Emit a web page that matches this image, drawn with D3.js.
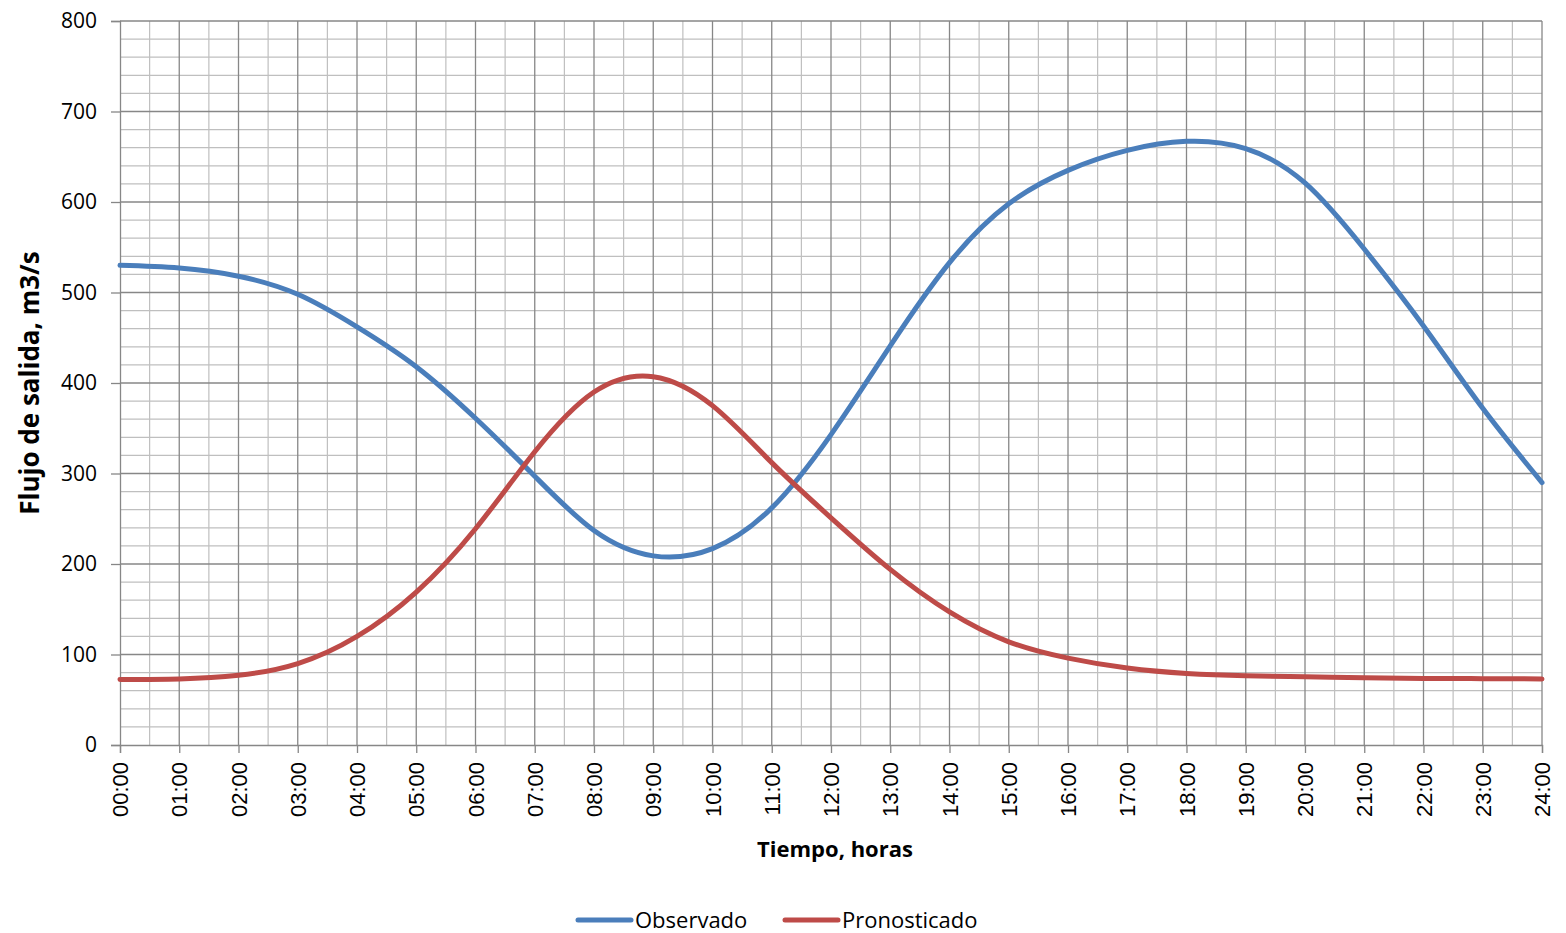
<!DOCTYPE html>
<html lang="es">
<head>
<meta charset="UTF-8">
<title>Flujo de salida</title>
<script src="https://cdn.jsdelivr.net/npm/d3@7"></script>
<style>
  body { margin: 0; background: #fff; }
  text { font-family: "Open Sans", "Noto Sans", sans-serif; fill: #000; }
</style>
</head>
<body>
<svg width="1566" height="933"></svg>
<script>
// hours 0..24
var hours = d3.range(0, 25);
var hourLabels = hours.map(function(h) { return (h < 10 ? "0" : "") + h + ":00"; });

var observado = [530, 527, 518, 498, 462, 418, 361, 297, 237, 209, 217, 262, 343, 441, 533,
                 598, 635, 657, 667, 659, 621, 548, 463, 372, 290];
var pronosticado = [72.5, 73, 77, 90, 120, 169, 239, 324, 390, 407, 375, 312, 251, 194, 147,
                    114, 96, 85, 79, 76.5, 75.4, 74.3, 73.6, 73.3, 73];

var yTicks = [0, 100, 200, 300, 400, 500, 600, 700, 800];

var series = [
  { name: "Observado", values: observado, color: "#4A7EBB" },
  { name: "Pronosticado", values: pronosticado, color: "#BE4B48" }
];

var plotLeft = 120, plotRight = 1542, plotTop = 21, plotBottom = 745;

var x = d3.scaleLinear().domain([0, 24]).range([plotLeft, plotRight]);
var y = d3.scaleLinear().domain([0, 800]).range([plotBottom, plotTop]);

var svg = d3.select("svg");

// minor grid
svg.append("g")
  .selectAll("line")
  .data(d3.range(0.5, 24, 1))
  .join("line")
  .attr("x1", function(d) { return x(d); })
  .attr("x2", function(d) { return x(d); })
  .attr("y1", plotTop).attr("y2", plotBottom)
  .attr("stroke", "#BFBFBF").attr("stroke-width", 1.2);

svg.append("g")
  .selectAll("line")
  .data(d3.range(20, 800, 20).filter(function(d) { return d % 100 !== 0; }))
  .join("line")
  .attr("x1", plotLeft).attr("x2", plotRight)
  .attr("y1", function(d) { return y(d); })
  .attr("y2", function(d) { return y(d); })
  .attr("stroke", "#BFBFBF").attr("stroke-width", 1.2);

// major grid
svg.append("g")
  .selectAll("line")
  .data(hours.slice(1))
  .join("line")
  .attr("x1", function(d) { return x(d); })
  .attr("x2", function(d) { return x(d); })
  .attr("y1", plotTop).attr("y2", plotBottom)
  .attr("stroke", "#878787").attr("stroke-width", 1.3);

svg.append("g")
  .selectAll("line")
  .data(yTicks.slice(1))
  .join("line")
  .attr("x1", plotLeft).attr("x2", plotRight)
  .attr("y1", function(d) { return y(d); })
  .attr("y2", function(d) { return y(d); })
  .attr("stroke", "#878787").attr("stroke-width", 1.3);

// axes
var yAxis = svg.append("g")
  .attr("transform", "translate(" + plotLeft + ",0)")
  .call(d3.axisLeft(y).tickValues(yTicks).tickSize(9).tickPadding(14));
yAxis.selectAll("text")
  .style("font-size", "21px")
  .style("font-family", "'Open Sans', sans-serif");

var xAxis = svg.append("g")
  .attr("transform", "translate(0," + plotBottom + ")")
  .call(d3.axisBottom(x).tickValues(hours).tickSize(8)
    .tickFormat(function(d, i) { return hourLabels[i]; }));
xAxis.selectAll("text")
  .style("font-size", "22px")
  .style("font-family", "'Liberation Sans', Arial, sans-serif")
  .attr("text-anchor", "end")
  .attr("transform", "rotate(-90)")
  .attr("x", -17).attr("y", 0).attr("dy", "0.35em");

[yAxis, xAxis].forEach(function(a) {
  a.select(".domain").attr("stroke", "#878787").attr("stroke-width", 1.3);
  a.selectAll(".tick line").attr("stroke", "#878787").attr("stroke-width", 1.3);
});

// lines
var line = d3.line()
  .x(function(d, i) { return x(hours[i]); })
  .y(function(d) { return y(d); })
  .curve(d3.curveNatural);

svg.append("g")
  .selectAll("path")
  .data(series)
  .join("path")
  .attr("d", function(s) { return line(s.values); })
  .attr("fill", "none")
  .attr("stroke", function(s) { return s.color; })
  .attr("stroke-width", 5)
  .attr("stroke-linecap", "round");

// titles
svg.append("text")
  .attr("x", 835).attr("y", 857)
  .attr("text-anchor", "middle")
  .style("font-size", "22px").style("font-weight", "bold")
  .text("Tiempo, horas");

svg.append("text")
  .attr("transform", "translate(39,383) rotate(-90)")
  .attr("text-anchor", "middle")
  .style("font-size", "26px").style("font-weight", "bold")
  .text("Flujo de salida, m3/s");

// legend
var legendX = [578, 785];
var legend = svg.append("g")
  .selectAll("g")
  .data(series)
  .join("g")
  .attr("transform", function(s, i) { return "translate(" + legendX[i] + ",920)"; });
legend.append("line")
  .attr("x1", 0).attr("x2", 53)
  .attr("stroke", function(s) { return s.color; })
  .attr("stroke-width", 5).attr("stroke-linecap", "round");
legend.append("text")
  .attr("x", 57).attr("dy", "0.35em")
  .style("font-size", "22px")
  .text(function(s) { return s.name; });
</script>
</body>
</html>
